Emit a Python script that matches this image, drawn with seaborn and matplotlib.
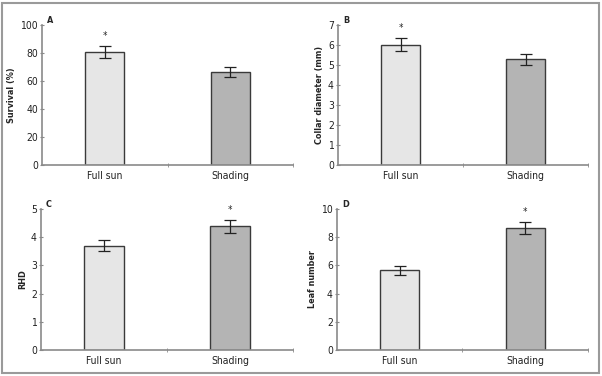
import numpy as np
import pandas as pd
import matplotlib
matplotlib.use("Agg")
import matplotlib.pyplot as plt
import seaborn as sns

# data
treatments = ["Full sun", "Shading"]
survival = [80.8, 66.2]
survival_err = [4.2, 3.6]
collar = [6.02, 5.28]
collar_err = [0.31, 0.28]
rhd = [3.70, 4.38]
rhd_err = [0.20, 0.23]
leaves = [5.65, 8.65]
leaves_err = [0.30, 0.41]
significant = [[True, False], [True, False], [False, True], [False, True]]

sns.set_style("white")
plt.rcParams["font.family"] = ["DejaVu Sans"]
plt.rcParams["font.stretch"] = "condensed"

panels = [
    ("A", "Survival (%)", survival, survival_err, 100, 20, [42, 293, 25, 165]),
    ("B", "Collar diameter (mm)", collar, collar_err, 7, 1, [338, 588, 25, 165]),
    ("C", "RHD", rhd, rhd_err, 5, 1, [41, 293, 209, 350]),
    ("D", "Leaf number", leaves, leaves_err, 10, 2, [337, 588, 209, 350]),
]

W, H = 602, 376
fig = plt.figure(figsize=(W / 100, H / 100), dpi=100)
fig.patches.append(plt.Rectangle((2 / W, 3 / H), 597 / W, 370 / H, transform=fig.transFigure,
                                 fill=False, edgecolor="#9a9a9a", linewidth=1.5))

axis_col = "#8a8a8a"
for i, (letter, ylabel, vals, errs, ymax, step, box) in enumerate(panels):
    l, r, t, b = box
    ax = fig.add_axes([l / W, 1 - b / H, (r - l) / W, (b - t) / H])
    df = pd.DataFrame({"treatment": treatments, "value": vals})
    sns.barplot(data=df, x="treatment", y="value", hue="treatment",
                palette=["#e6e6e6", "#b4b4b4"], width=0.31, edgecolor="#3a3a3a",
                linewidth=1.0, legend=False, ax=ax)
    ax.errorbar(range(len(vals)), vals, yerr=errs, fmt="none", ecolor="#222222",
                elinewidth=0.9, capsize=4, capthick=0.9)
    for j, sig in enumerate(significant[i]):
        if sig:
            ax.text(j, vals[j] + errs[j] + ymax * 0.035, "*", ha="center", va="bottom", fontsize=7)
    ax.set_xlim(-0.5, 1.5)
    ax.set_ylim(0, ymax)
    ax.set_yticks(np.arange(0, ymax + step / 2, step))
    ax.set_xticks([0.5, 1.5], minor=True)
    ax.set_xlabel("")
    ax.set_ylabel(ylabel, fontsize=6.5, fontweight="bold", labelpad=3)
    for s in ["top", "right"]:
        ax.spines[s].set_visible(False)
    for s in ["left", "bottom"]:
        ax.spines[s].set_color(axis_col)
        ax.spines[s].set_linewidth(1.2)
    ax.tick_params(axis="y", which="major", length=3, direction="inout", color=axis_col,
                   labelsize=7.5, labelcolor="#222222", left=True, pad=1.5)
    ax.tick_params(axis="x", which="major", length=0, labelsize=7.5, labelcolor="#222222", pad=4)
    ax.tick_params(axis="x", which="minor", length=3, direction="inout", color=axis_col, bottom=True)
    ax.text(0.02, 1.0, letter, transform=ax.transAxes, fontsize=6.5, fontweight="bold",
            ha="left", va="bottom")

fig.savefig("out.png", dpi=100)
